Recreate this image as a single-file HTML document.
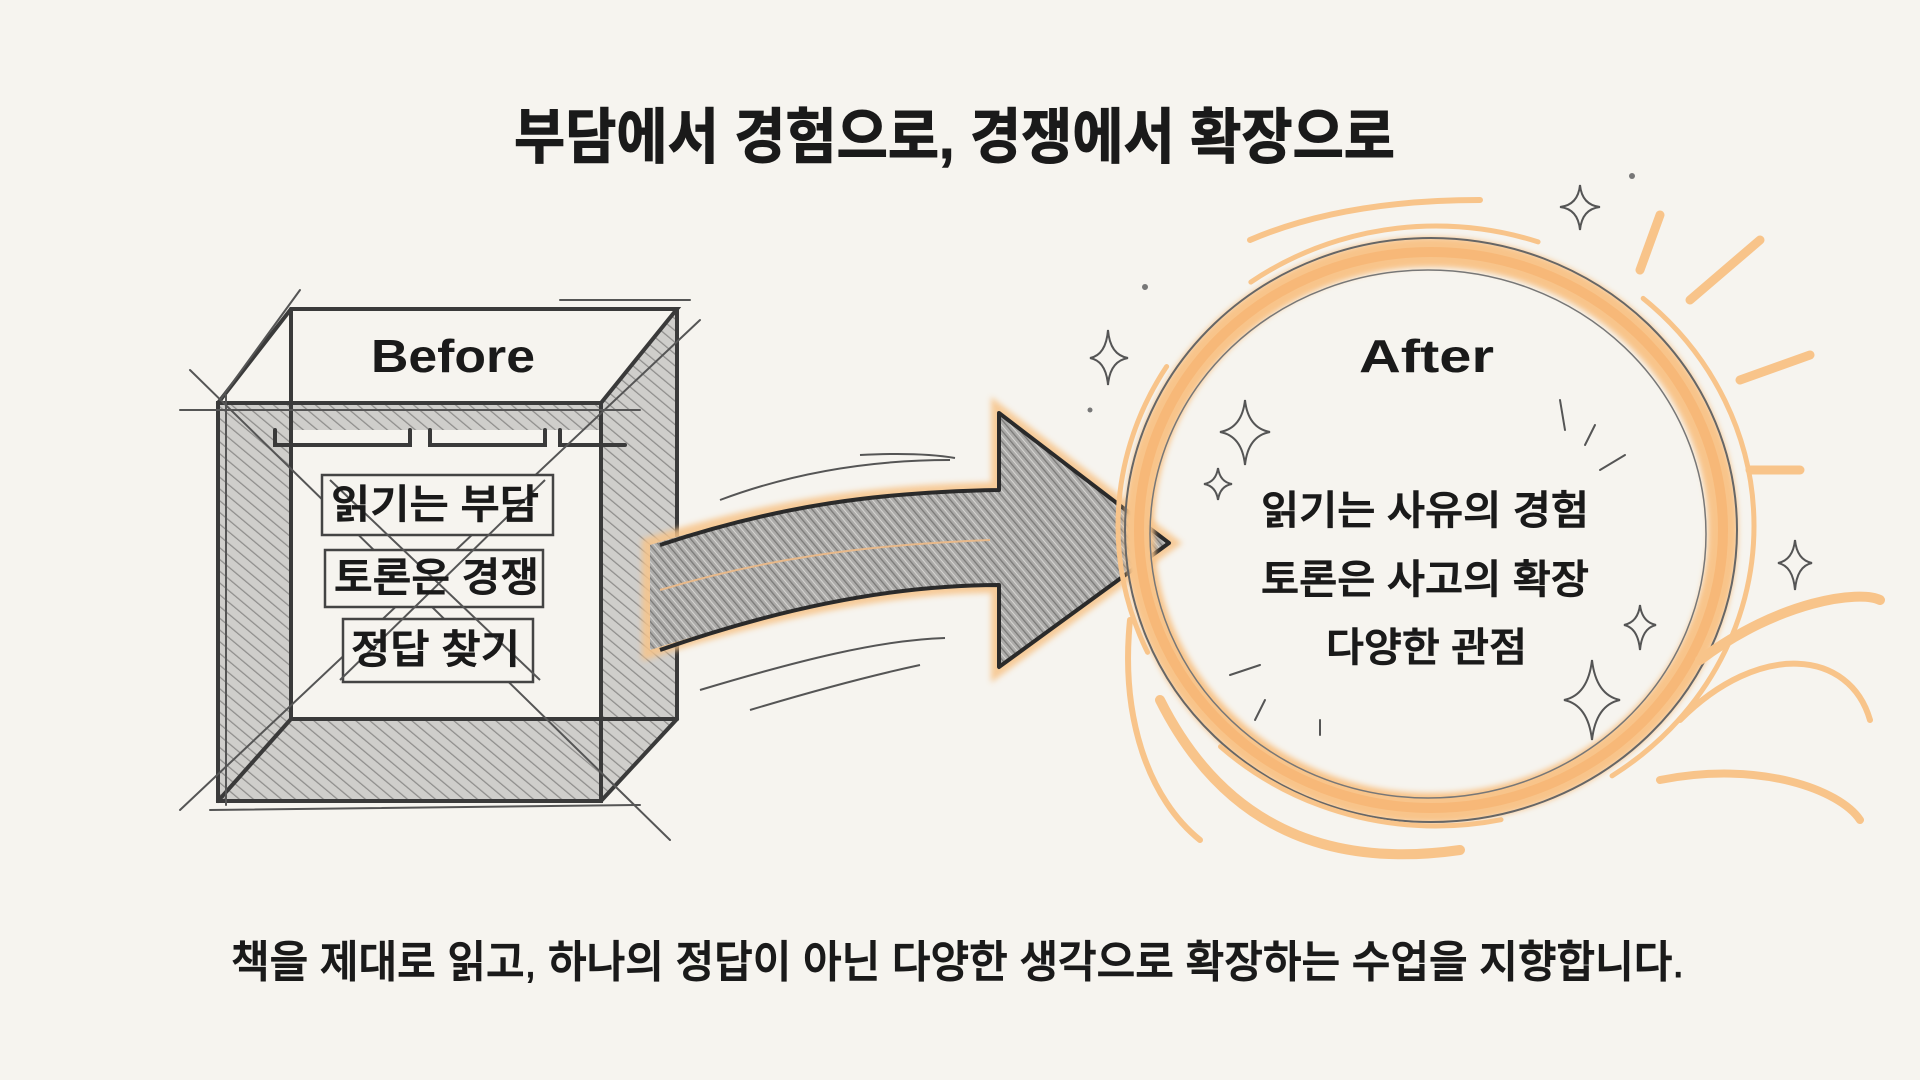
<!DOCTYPE html>
<html><head><meta charset="utf-8"><style>
html,body{margin:0;padding:0;background:#f6f4ef;}
svg{display:block}
.k{font-family:"Liberation Sans","Noto Sans CJK KR",sans-serif;fill:#1a1a1a}
.m{font-weight:500;stroke:#1a1a1a;stroke-width:0.9}
</style></head><body>
<svg width="1920" height="1080" viewBox="0 0 1920 1080" xmlns="http://www.w3.org/2000/svg">
<defs>
<pattern id="h" width="9" height="9" patternUnits="userSpaceOnUse" patternTransform="rotate(-50)">
<rect width="9" height="9" fill="#cfcecb"/><line x1="0" y1="0" x2="0" y2="9" stroke="#8e8d8b" stroke-width="2.5"/></pattern>
<pattern id="h2" width="7" height="7" patternUnits="userSpaceOnUse" patternTransform="rotate(-40)">
<rect width="7" height="7" fill="#adacaa"/><line x1="0" y1="0" x2="0" y2="7" stroke="#7a7977" stroke-width="2.5"/><line x1="4" y1="0" x2="4" y2="7" stroke="#d6d5d2" stroke-width="1"/></pattern>
<filter id="blur"><feGaussianBlur stdDeviation="3"/></filter>
</defs>
<rect width="1920" height="1080" fill="#f6f4ef"/>

<text class="k" x="514" y="158" font-size="60" font-weight="700" textLength="881" lengthAdjust="spacingAndGlyphs" stroke="#1a1a1a" stroke-width="1">부담에서 경험으로, 경쟁에서 확장으로</text>

<!-- BOX -->
<g stroke="#3a3a3a" fill="none" stroke-linecap="round">
<polygon points="218,403 291,309 291,719 218,801" fill="url(#h)" stroke="none"/>
<polygon points="218,801 291,719 601,719 601,801" fill="url(#h)" stroke="none"/>
<polygon points="218,403 601,403 601,430 218,430" fill="url(#h)" stroke="none"/>
<polygon points="601,403 677,309 677,719 601,801" fill="url(#h)" stroke="none"/>
<rect x="291" y="430" width="310" height="289" fill="#f6f4ef" stroke="none"/>
<polygon points="218,403 291,309 677,309 601,403" fill="#f6f4ef" stroke="none"/>
<g stroke-width="4">
<rect x="218" y="403" width="383" height="398"/>
<polyline points="218,403 291,309 677,309 601,403"/>
<line x1="677" y1="309" x2="677" y2="719"/>
<line x1="601" y1="801" x2="677" y2="719"/>
<line x1="218" y1="801" x2="291" y2="719"/>
<polyline points="291,309 291,719 677,719"/>
<polyline points="275,430 275,445 410,445 410,430"/><polyline points="430,430 430,445 545,445 545,430"/><polyline points="560,430 560,445 625,445"/>
</g>
<g stroke-width="2" stroke="#555">
<line x1="190" y1="370" x2="670" y2="840"/><line x1="700" y1="320" x2="180" y2="810"/>
<line x1="300" y1="290" x2="220" y2="400"/><line x1="180" y1="410" x2="640" y2="410"/>
<line x1="210" y1="810" x2="640" y2="805"/><line x1="560" y1="300" x2="690" y2="300"/>
<line x1="226" y1="395" x2="226" y2="805"/>
</g>
</g>
<text class="k" x="371" y="372" font-size="46" font-weight="700" textLength="164" lengthAdjust="spacingAndGlyphs">Before</text>
<g fill="#f6f4ef" stroke="#444" stroke-width="2.5">
<rect x="322" y="475" width="231" height="60"/>
<rect x="325" y="550" width="218" height="57"/>
<rect x="343" y="619" width="190" height="63"/>
</g>
<g stroke="#555" stroke-width="2"><line x1="330" y1="480" x2="540" y2="680"/><line x1="545" y1="480" x2="340" y2="680"/></g>
<text class="k m" x="331" y="518" font-size="40" textLength="208" lengthAdjust="spacingAndGlyphs">읽기는 부담</text>
<text class="k m" x="334" y="591" font-size="40" textLength="205" lengthAdjust="spacingAndGlyphs">토론은 경쟁</text>
<text class="k m" x="351" y="663" font-size="40" textLength="169" lengthAdjust="spacingAndGlyphs">정답 찾기</text>

<!-- ARROW -->
<path d="M650,545 C780,505 880,492 999,490 L999,413 L1169,543 L999,667 L999,585 C880,585 760,615 650,650 Z" fill="none" stroke="#f7c48a" stroke-width="16" filter="url(#blur)" opacity="0.85"/>
<path d="M650,545 C780,505 880,492 999,490 L999,413 L1169,543 L999,667 L999,585 C880,585 760,615 650,650 Z" fill="url(#h2)" stroke="none"/>
<path d="M660,545 C780,505 880,492 999,490 L999,413 L1169,543 L999,667 L999,585 C880,585 760,615 660,650" fill="none" stroke="#2a2a2a" stroke-width="4" stroke-linejoin="round"/>
<g stroke="#555" stroke-width="2" fill="none">
<path d="M720,500 C800,470 880,460 950,460"/><path d="M860,455 Q920,452 955,458"/>
<path d="M700,690 C800,660 880,640 945,638"/><path d="M750,710 Q850,680 920,665"/>
<path d="M660,590 C760,560 860,545 990,540" stroke="#e8b98a" stroke-width="2"/>
</g>

<!-- CIRCLE -->
<g fill="none" stroke-linecap="round">
<ellipse cx="1431" cy="530" rx="292" ry="278" stroke="#f8c48a" stroke-width="30" filter="url(#blur)"/>
<ellipse cx="1431" cy="530" rx="292" ry="278" stroke="#f6b470" stroke-width="10" opacity="0.7"/>
<ellipse cx="1431" cy="530" rx="306" ry="292" stroke="#666" stroke-width="2"/>
<ellipse cx="1428" cy="534" rx="278" ry="264" stroke="#777" stroke-width="1.5"/>
<ellipse cx="1436" cy="526" rx="318" ry="300" stroke="#f8c48a" stroke-width="5" stroke-dasharray="300 120"/>
<path d="M1160,700 C1220,820 1320,870 1460,850" stroke="#f8c48a" stroke-width="10"/>
<path d="M1700,660 C1780,600 1860,590 1880,600" stroke="#f8c48a" stroke-width="10"/>
<path d="M1680,720 C1760,640 1850,650 1870,720" stroke="#f8c48a" stroke-width="6"/>
<path d="M1660,780 C1760,760 1840,790 1860,820" stroke="#f8c48a" stroke-width="8"/>
<path d="M1130,620 C1120,720 1150,800 1200,840" stroke="#f8c48a" stroke-width="6"/>
<path d="M1250,240 C1320,210 1400,200 1480,200" stroke="#f8c48a" stroke-width="6"/>
<g stroke="#f8c48a" stroke-width="9">
<line x1="1640" y1="270" x2="1660" y2="215"/><line x1="1690" y1="300" x2="1760" y2="240"/>
<line x1="1740" y1="380" x2="1810" y2="355"/><line x1="1750" y1="470" x2="1800" y2="470"/>
</g>
<g stroke="#555" stroke-width="2">
<line x1="1565" y1="430" x2="1560" y2="400"/><line x1="1585" y1="445" x2="1595" y2="425"/><line x1="1600" y1="470" x2="1625" y2="455"/>
<line x1="1230" y1="675" x2="1260" y2="665"/><line x1="1255" y1="720" x2="1265" y2="700"/><line x1="1320" y1="735" x2="1320" y2="720"/>
</g>
</g>
<g fill="none" stroke="#555" stroke-width="2">
<path d="M1580,185 Q1582,205 1600,207 Q1582,209 1580,230 Q1578,209 1560,207 Q1578,205 1580,185Z"/>
<path d="M1108,330 Q1110,355 1128,358 Q1110,361 1108,385 Q1106,361 1090,358 Q1106,355 1108,330Z"/>
<path d="M1245,400 Q1248,428 1270,432 Q1248,436 1245,465 Q1242,436 1220,432 Q1242,428 1245,400Z"/>
<path d="M1218,468 Q1220,482 1232,484 Q1220,486 1218,500 Q1216,486 1204,484 Q1216,482 1218,468Z"/>
<path d="M1795,540 Q1797,560 1812,563 Q1797,566 1795,590 Q1793,566 1778,563 Q1793,560 1795,540Z"/>
<path d="M1640,605 Q1642,622 1656,625 Q1642,628 1640,650 Q1638,628 1624,625 Q1638,622 1640,605Z"/>
<path d="M1592,660 Q1596,695 1620,700 Q1596,705 1592,740 Q1588,705 1564,700 Q1588,695 1592,660Z"/>
</g>
<g fill="#777"><circle cx="1632" cy="176" r="3"/><circle cx="1145" cy="287" r="3"/><circle cx="1090" cy="410" r="2.5"/></g>

<text class="k" x="1359" y="372" font-size="46" font-weight="700" textLength="135" lengthAdjust="spacingAndGlyphs">After</text>
<text class="k m" x="1261" y="524" font-size="40" textLength="328" lengthAdjust="spacingAndGlyphs">읽기는 사유의 경험</text>
<text class="k m" x="1261" y="593" font-size="40" textLength="328" lengthAdjust="spacingAndGlyphs">토론은 사고의 확장</text>
<text class="k m" x="1326" y="661" font-size="40" textLength="201" lengthAdjust="spacingAndGlyphs">다양한 관점</text>

<text class="k m" x="231" y="977" font-size="44" textLength="1453" lengthAdjust="spacingAndGlyphs">책을 제대로 읽고, 하나의 정답이 아닌 다양한 생각으로 확장하는 수업을 지향합니다.</text>
</svg>
</body></html>
